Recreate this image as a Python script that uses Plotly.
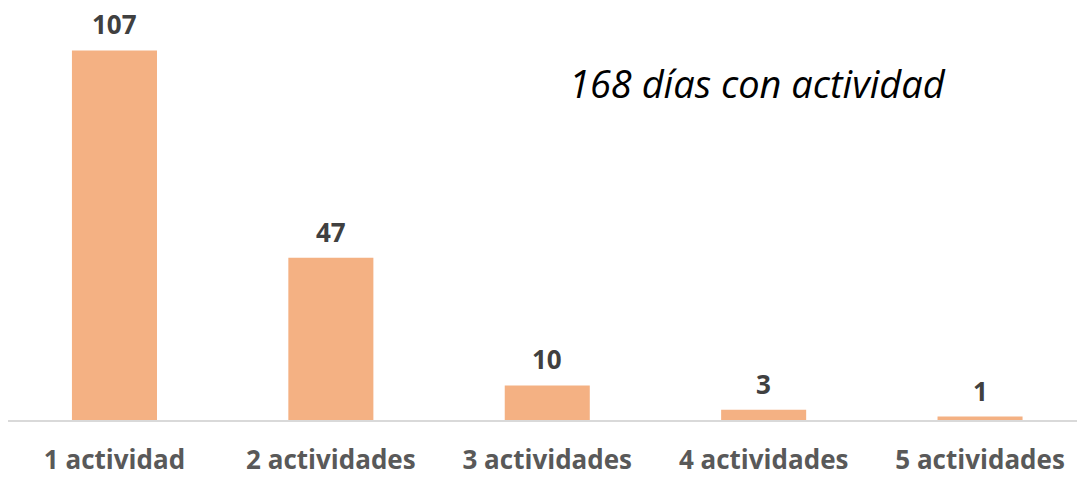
import plotly.graph_objects as go

categories = ["1 actividad", "2 actividades", "3 actividades", "4 actividades", "5 actividades"]
values = [107, 47, 10, 3, 1]
note = "168 días con actividad"

fig = go.Figure()
fig.add_trace(go.Bar(
    x=categories, y=values,
    marker=dict(color="#F4B183", line=dict(width=0)),
    hoverinfo="x+y",
))
for c, v in zip(categories, values):
    fig.add_annotation(
        x=c, y=v, xref="x", yref="y", text="<b>%d</b>" % v,
        showarrow=False, xanchor="center", yanchor="middle", yshift=26,
        font=dict(family="Open Sans", size=26, color="#404040"),
    )
fig.add_annotation(
    x=0.696, y=0.818, xref="paper", yref="paper",
    xanchor="center", yanchor="middle",
    text="<i>" + note + "</i>", showarrow=False,
    font=dict(family="Open Sans", size=38, color="#000000"),
)
fig.update_layout(
    width=1077, height=469,
    margin=dict(l=0, r=0, t=0, b=57, autoexpand=False),
    paper_bgcolor="white", plot_bgcolor="white",
    bargap=0.607, showlegend=False,
    xaxis=dict(
        range=[-0.492, 4.485],
        showline=True, linecolor="#D9D9D9", linewidth=2,
        tickfont=dict(family="Open Sans", size=26, color="#595959", weight="bold"),
        ticks="", ticklabelstandoff=16, automargin=False,
    ),
    yaxis=dict(range=[0, 119.3], visible=False, automargin=False),
)
fig.write_html("out.html")
